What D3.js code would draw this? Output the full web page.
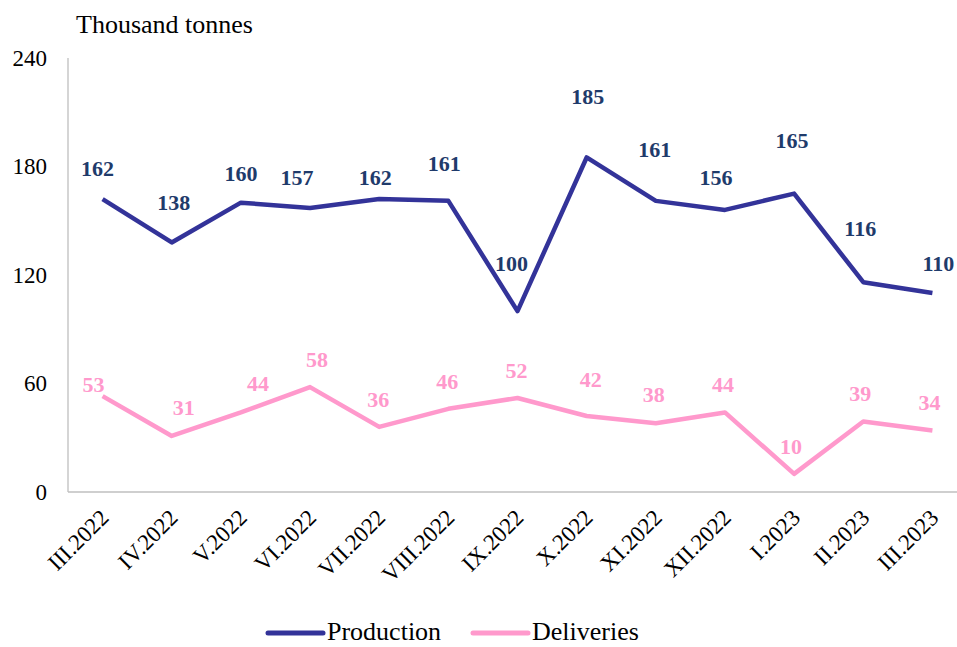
<!DOCTYPE html>
<html>
<head>
<meta charset="utf-8">
<script src="https://cdn.jsdelivr.net/npm/d3@7"></script>
<style>
  html, body { margin: 0; padding: 0; background: #fff; }
  svg { display: block; }
  svg text { font-family: "Liberation Serif", "Times New Roman", serif; }
</style>
</head>
<body>
<div id="chart"></div>
<script>
// ---- data ----
const months = ["III.2022","IV.2022","V.2022","VI.2022","VII.2022","VIII.2022","IX.2022","X.2022","XI.2022","XII.2022","I.2023","II.2023","III.2023"];
const production = [162,138,160,157,162,161,100,185,161,156,165,116,110];
const deliveries = [53,31,44,58,36,46,52,42,38,44,10,39,34];
const yTicks = [0,60,120,180,240];
const seriesNames = ["Production","Deliveries"];
const unitLabel = "Thousand tonnes";

// label nudges (layout, px) for data labels
const prodLabelDx = [-5,2,0,-13,-4,-4,-6,1,-1,-9,-2,-3,6];
const prodLabelDy = [-31,-40,-29,-31,-22,-38,-48,-61,-52,-33,-53,-54,-30];
const delLabelDx = [-9,12,17,7,-1,-1,-1,4,-2,-2,-3,-3,-3];
const delLabelDy = [-12,-29,-29,-28,-28,-28,-28,-37,-29,-28,-28,-28,-28];

// ---- layout ----
const W = 957, H = 647;
const mLeft = 68, mRight = 967, mTop = 58, mBottom = 492;
const FONT = "'Liberation Serif', 'Times New Roman', serif";
const prodColor = "#333399", prodLabelColor = "#1f3b6b";
const delColor = "#ff99cc";
const axisColor = "#bfbfbf";

const svg = d3.select("#chart").append("svg").attr("width", W).attr("height", H)
  .attr("font-family", FONT);

const x = d3.scalePoint().domain(months).range([mLeft, mRight]).padding(0.5);
const y = d3.scaleLinear().domain([0, 240]).range([mBottom, mTop]);

// axes lines
svg.append("line").attr("x1", mLeft).attr("x2", mLeft).attr("y1", y(240)).attr("y2", y(0))
  .attr("stroke", axisColor).attr("stroke-width", 1.3);
svg.append("line").attr("x1", mLeft).attr("x2", W).attr("y1", y(0)).attr("y2", y(0))
  .attr("stroke", axisColor).attr("stroke-width", 1.3);

// y tick labels
const yAxis = d3.axisLeft(y).tickValues(yTicks).tickSize(0).tickPadding(21);
const gy = svg.append("g").attr("transform", `translate(${mLeft},0)`).call(yAxis)
  .attr("font-family", FONT);
gy.select(".domain").remove();
gy.selectAll("text").attr("font-size", 23).attr("fill", "#000").attr("font-family", FONT);

// x tick labels (rotated)
const xAxis = d3.axisBottom(x).tickSize(0).tickPadding(0);
const gx = svg.append("g").attr("transform", `translate(0,${mBottom})`).call(xAxis)
  .attr("font-family", FONT);
gx.select(".domain").remove();
gx.selectAll("text")
  .attr("font-size", 23).attr("fill", "#000").attr("font-family", FONT)
  .attr("text-anchor", "end")
  .attr("dy", null).attr("y", 0)
  .attr("transform", "translate(7,27) rotate(-45)");

// title
svg.append("text").attr("x", 76).attr("y", 33).attr("font-size", 26).attr("fill", "#000")
  .attr("font-family", FONT).text(unitLabel);

// lines
const line = d3.line().x((d, i) => x(months[i])).y(d => y(d));
svg.append("path").datum(deliveries).attr("d", line).attr("fill", "none")
  .attr("stroke", delColor).attr("stroke-width", 4.5).attr("stroke-linejoin", "round");
svg.append("path").datum(production).attr("d", line).attr("fill", "none")
  .attr("stroke", prodColor).attr("stroke-width", 4.5).attr("stroke-linejoin", "round");

// data labels
svg.append("g").selectAll("text").data(production).join("text")
  .attr("x", (d, i) => x(months[i]) + prodLabelDx[i])
  .attr("y", (d, i) => y(d) + prodLabelDy[i])
  .attr("dy", "0.35em").attr("font-family", FONT)
  .attr("text-anchor", "middle").attr("font-size", 22).attr("font-weight", "bold")
  .attr("fill", prodLabelColor).text(d => d);
svg.append("g").selectAll("text").data(deliveries).join("text")
  .attr("x", (d, i) => x(months[i]) + delLabelDx[i])
  .attr("y", (d, i) => y(d) + delLabelDy[i])
  .attr("dy", "0.35em").attr("font-family", FONT)
  .attr("text-anchor", "middle").attr("font-size", 22).attr("font-weight", "bold")
  .attr("fill", delColor).text(d => d);

// legend
const legendItems = [
  {name: seriesNames[0], color: prodColor, x0: 268},
  {name: seriesNames[1], color: delColor, x0: 473}
];
const lg = svg.append("g");
legendItems.forEach(it => {
  lg.append("line").attr("x1", it.x0).attr("x2", it.x0 + 55).attr("y1", 633).attr("y2", 633)
    .attr("stroke", it.color).attr("stroke-width", 5).attr("stroke-linecap", "round");
  lg.append("text").attr("x", it.x0 + 59).attr("y", 640).attr("font-size", 26).attr("fill", "#000")
    .attr("font-family", FONT).text(it.name);
});
</script>
</body>
</html>
